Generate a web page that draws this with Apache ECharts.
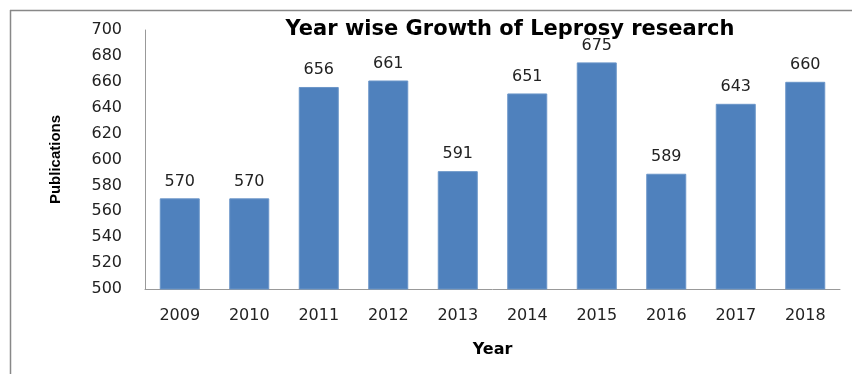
<!DOCTYPE html>
<html><head><meta charset="utf-8">
<script src="https://cdn.jsdelivr.net/npm/echarts@6/dist/echarts.min.js"></script>
<style>html,body{margin:0;padding:0;background:#fff}#c{width:852px;height:374px}</style>
</head><body><div id="c"></div>
<script>
const years = ['2009','2010','2011','2012','2013','2014','2015','2016','2017','2018'];
const publications = [570,570,656,661,591,651,675,589,643,660];
const yTicks = {min:500, max:700, interval:20};

const chart = echarts.init(document.getElementById('c'), null, {renderer:'canvas'});
chart.setOption({
  animation:false,
  backgroundColor:'#fff',
  title:{text:'Year wise Growth of Leprosy research', left:505, top:14, textAlign:'center',
    textStyle:{fontFamily:'DejaVu Sans', fontWeight:'bold', fontSize:21, color:'#000'}},
  graphic:[
    {type:'line', shape:{x1:10,y1:10.5,x2:852,y2:10.5}, style:{stroke:'#888', lineWidth:1.5}},
    {type:'line', shape:{x1:10.5,y1:10,x2:10.5,y2:374}, style:{stroke:'#888', lineWidth:1.5}}
  ],
  grid:{left:145, right:12, top:30, bottom:85},
  xAxis:{type:'category', data:years, name:'Year', nameLocation:'middle', nameGap:53,
    nameTextStyle:{fontFamily:'DejaVu Sans', fontWeight:'bold', fontSize:16, color:'#000'},
    axisLine:{lineStyle:{color:'#999'}}, axisTick:{show:false},
    axisLabel:{fontFamily:'DejaVu Sans', fontSize:16, color:'#222', margin:19}},
  yAxis:{type:'value', min:yTicks.min, max:yTicks.max, interval:yTicks.interval,
    name:'Publications', nameLocation:'middle', nameGap:82, nameRotate:90,
    nameTextStyle:{fontFamily:'Liberation Sans', fontWeight:'bold', fontSize:15, color:'#000'},
    axisLine:{show:true, lineStyle:{color:'#999'}}, axisTick:{show:false}, splitLine:{show:false},
    axisLabel:{fontFamily:'DejaVu Sans', fontSize:16, color:'#222', margin:23}},
  series:[{type:'bar', data:publications, barWidth:40,
    itemStyle:{color:'#4F81BD', borderColor:'#6a95c8', borderWidth:1},
    label:{show:true, position:'top', distance:9, fontFamily:'DejaVu Sans', fontSize:16, color:'#222'}}]
});
</script></body></html>
